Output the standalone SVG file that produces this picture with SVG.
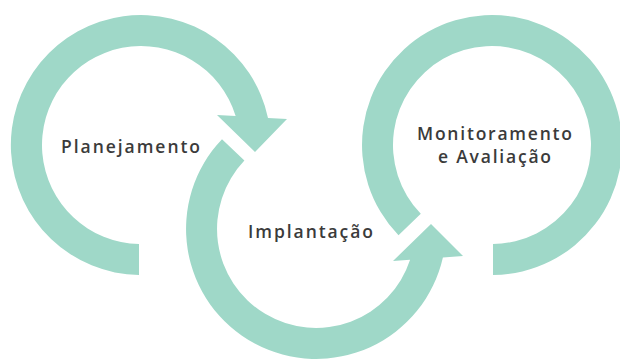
<svg xmlns="http://www.w3.org/2000/svg" width="620" height="359" viewBox="0 0 620 359">
<style>
.ring{fill:#9fd8c8;stroke:none}
.lbl{font-family:"Open Sans","Liberation Sans",sans-serif;font-weight:600;font-size:17.5px;fill:#3b3b3b;text-anchor:middle}
</style>
<rect width="620" height="359" fill="#ffffff"/>
<g id="planejamento">
<path class="ring" d="M139,275 A130,130 0 1 1 268,117.9 L287,119 L255,152 L217,115 L235.65,116 A99,99 0 1 0 139,244 Z"/>
<text class="lbl" x="130.5" y="152.5" textLength="139" lengthAdjust="spacing">Planejamento</text>
</g>
<g id="implantacao">
<path class="ring" d="M222,139.2 A130,130 0 1 0 442.9,257.4 L463,256 L431,224 L393,261 L410.1,259.8 A99,99 0 1 1 244.4,160.6 Z"/>
<text class="lbl" x="310.5" y="238" textLength="125" lengthAdjust="spacing">Implantação</text>
</g>
<g id="monitoramento">
<path class="ring" d="M398.5,235.3 A130,130 0 1 1 493,275 L493,244 A99,99 0 1 0 420.8,213.8 Z"/>
<text class="lbl" x="494.5" y="139.5" textLength="155" lengthAdjust="spacing">Monitoramento</text>
<text class="lbl" x="494.5" y="162.5" textLength="113" lengthAdjust="spacing">e Avaliação</text>
</g>
<g id="connectors"></g>
</svg>
